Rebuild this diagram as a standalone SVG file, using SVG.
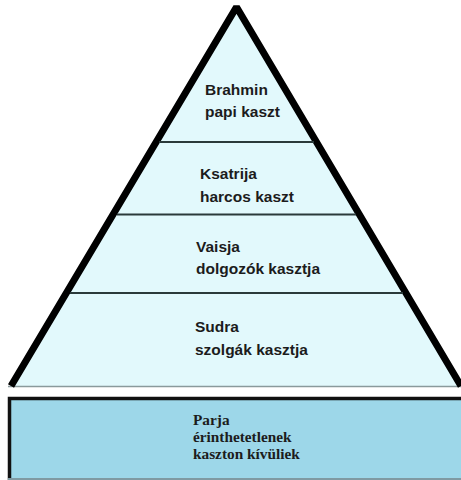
<svg xmlns="http://www.w3.org/2000/svg" width="461" height="480" viewBox="0 0 461 480">
<style>
.tier{font-family:"Liberation Sans",Arial,sans-serif;font-weight:bold;font-size:15.5px;fill:#1c1c1c}
.out{font-family:"Liberation Serif","Times New Roman",serif;font-weight:bold;font-size:15.3px;fill:#1c1c1c}
.div{stroke:#2a3a3a;stroke-width:2;fill:none}
</style>
<rect width="461" height="480" fill="#ffffff"/>
<g id="pyramid">
<polygon points="236.5,7 11,386 461,386" fill="#e2f9fc"/>
<line x1="8" y1="386.5" x2="461" y2="386.5" stroke="#8a9a9c" stroke-width="1.5"/>
<polyline points="11,386 236.5,7 461,386" fill="none" stroke="#000" stroke-width="7" stroke-linejoin="bevel"/>
</g>
<g id="brahmin">
<text class="tier" x="205" y="95">Brahmin</text>
<text class="tier" x="205" y="117">papi kaszt</text>
</g>
<g id="ksatrija">
<line class="div" x1="159" y1="142" x2="314" y2="142"/>
<text class="tier" x="200" y="179">Ksatrija</text>
<text class="tier" x="200" y="202">harcos kaszt</text>
</g>
<g id="vaisja">
<line class="div" x1="117" y1="214.5" x2="356" y2="214.5"/>
<text class="tier" x="196" y="252">Vaisja</text>
<text class="tier" x="196" y="274">dolgozók kasztja</text>
</g>
<g id="sudra">
<line class="div" x1="70" y1="293" x2="403" y2="293"/>
<text class="tier" x="195" y="332">Sudra</text>
<text class="tier" x="195" y="355">szolgák kasztja</text>
</g>
<g id="parja">
<rect x="8" y="397" width="453" height="83" fill="#9dd7e9"/>
<polyline points="9.5,480 9.5,398.5 461,398.5" fill="none" stroke="#111" stroke-width="3.5"/>
<line x1="8" y1="479" x2="461" y2="479" stroke="#7f9aa3" stroke-width="2"/>
<text class="out" x="193" y="425">Parja</text>
<text class="out" x="193" y="442">érinthetetlenek</text>
<text class="out" x="193" y="459">kaszton kívüliek</text>
</g>
</svg>
